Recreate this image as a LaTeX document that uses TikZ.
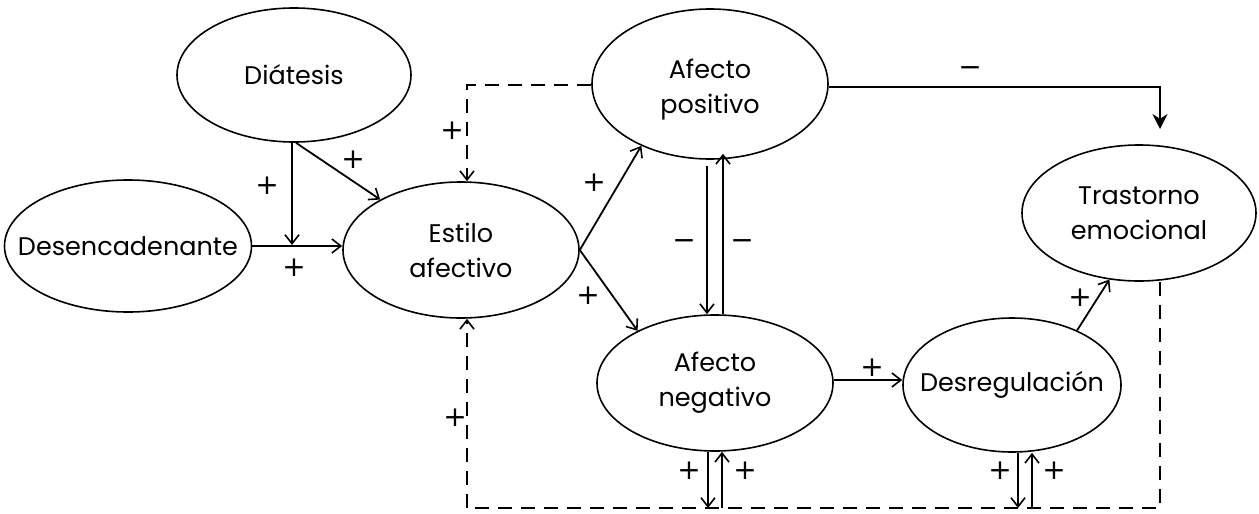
\documentclass[tikz,border=0pt]{standalone}
\usepackage{fontspec}
\setmainfont{Poppins}
\newfontfamily\signfont{DejaVu Sans}
\usetikzlibrary{shapes.geometric,arrows.meta}

\tikzset{
  oval/.style={ellipse, draw, line width=1.6pt, inner sep=0pt},
  txt/.style={font=\fontsize{25.5}{35}\selectfont, align=center, inner sep=0pt},
  sgn/.style={font=\signfont\fontsize{28}{28}\selectfont, inner sep=0pt},
  link/.style={line width=1.8pt, -{Straight Barb[length=9pt,width=14pt,line width=1.6pt]}},
  dlink/.style={line width=1.8pt, dash pattern=on 14pt off 9pt},
  solidhead/.style={line width=1.8pt, -{Stealth[length=15pt,width=15pt]}}
}

\begin{document}
\begin{tikzpicture}[x=1pt, y=-1pt]
  \useasboundingbox (0,0) rectangle (1259,514);

  % ovals
  \node[oval, minimum width=234pt, minimum height=134pt,
        label={[txt]center:Diátesis}] (dia) at (294,75) {};
  \node[oval, minimum width=247pt, minimum height=132pt,
        label={[txt]center:Desencadenante}] (des) at (128,246) {};
  \node[oval, minimum width=236pt, minimum height=136pt,
        label={[txt]center:Estilo\\afectivo}] (est) at (461,250) {};
  \node[oval, minimum width=236pt, minimum height=150pt,
        label={[txt, yshift=-6pt]center:Afecto\\positivo}] (pos) at (710,84) {};
  \node[oval, minimum width=236pt, minimum height=136pt,
        label={[txt]center:Afecto\\negativo}] (neg) at (715,383) {};
  \node[oval, minimum width=218pt, minimum height=134pt,
        label={[txt]center:Desregulación}] (dsr) at (1012,385) {};
  \node[oval, minimum width=234pt, minimum height=136pt,
        label={[txt]center:Trastorno\\emocional}] (tra) at (1139,213) {};

  % junction points
  \coordinate (jdes) at (292,245);
  \coordinate (tlc) at (467,85);
  \coordinate (tr) at (1160,87);
  \coordinate (trend) at (1160,129);
  \coordinate (brc) at (1160,508);
  \coordinate (blc) at (467,508);
  \coordinate (n1) at (708,508);
  \coordinate (n2) at (722,508);
  \coordinate (d1) at (1018,508);
  \coordinate (d2) at (1032,508);

  % Diátesis and Desencadenante into Estilo afectivo
  \draw[link] (dia.south -| jdes) -- (jdes);
  \draw[link] (dia.south -| 296,0) -- (est.148);
  \draw[link] (des.east) -- (est.west |- des.east);
  \node[sgn] (p1) at (267,186) {+};
  \node[sgn] (p2) at (353,160) {+};
  \node[sgn] (p3) at (294,268) {+};

  % Estilo afectivo to the two affects
  \draw[link] (est.east) -- (pos.222);
  \draw[link] (est.east) -- (neg.146);
  \node[sgn] (p4) at (594,183) {+};
  \node[sgn] (p5) at (588,296) {+};

  % mutual inhibition of the affects
  \draw[link] (pos.south -| 707,0) ++(0,6) -- (neg.north -| 707,0);
  \draw[link] (neg.north -| 723,0) -- ([yshift=6pt]pos.south -| 723,0);
  \node[sgn] (m1) at (684,245) {−};
  \node[sgn] (m2) at (742,245) {−};

  % positive affect feeding back on the affective style
  \draw[dlink, -{Straight Barb[length=9pt,width=14pt,line width=1.6pt]}]
    (pos.west |- tlc) -- (tlc) -- (est.north -| tlc);
  \node[sgn] (p6) at (452,131) {+};

  % positive affect protects against disorder
  \draw[solidhead] (pos.east |- tr) -- (tr) -- (trend);
  \node[sgn] (m3) at (970,72) {−};

  % negative affect to dysregulation to disorder
  \draw[link] (neg.east |- 0,380) -- (dsr.west |- 0,380);
  \node[sgn] (p7) at (872,368) {+};
  \draw[link] (dsr.40) -- (tra.246);
  \node[sgn] (p8) at (1080,298) {+};

  % feedback loop along the bottom
  \draw[dlink] (tra.south -| brc) -- (brc) -- (blc);
  \draw[dlink, -{Straight Barb[length=9pt,width=14pt,line width=1.6pt]}]
    (blc) -- (est.south -| blc);
  \node[sgn] (p9) at (455,418) {+};

  \draw[link] (neg.south -| n1) -- (n1);
  \draw[link] (n2) -- (neg.south -| n2);
  \node[sgn] (p10) at (689,471) {+};
  \node[sgn] (p11) at (745,471) {+};

  \draw[link] (dsr.south -| d1) -- (d1);
  \draw[link] (d2) -- (dsr.south -| d2);
  \node[sgn] (p12) at (1000,471) {+};
  \node[sgn] (p13) at (1054,471) {+};
\end{tikzpicture}
\end{document}
